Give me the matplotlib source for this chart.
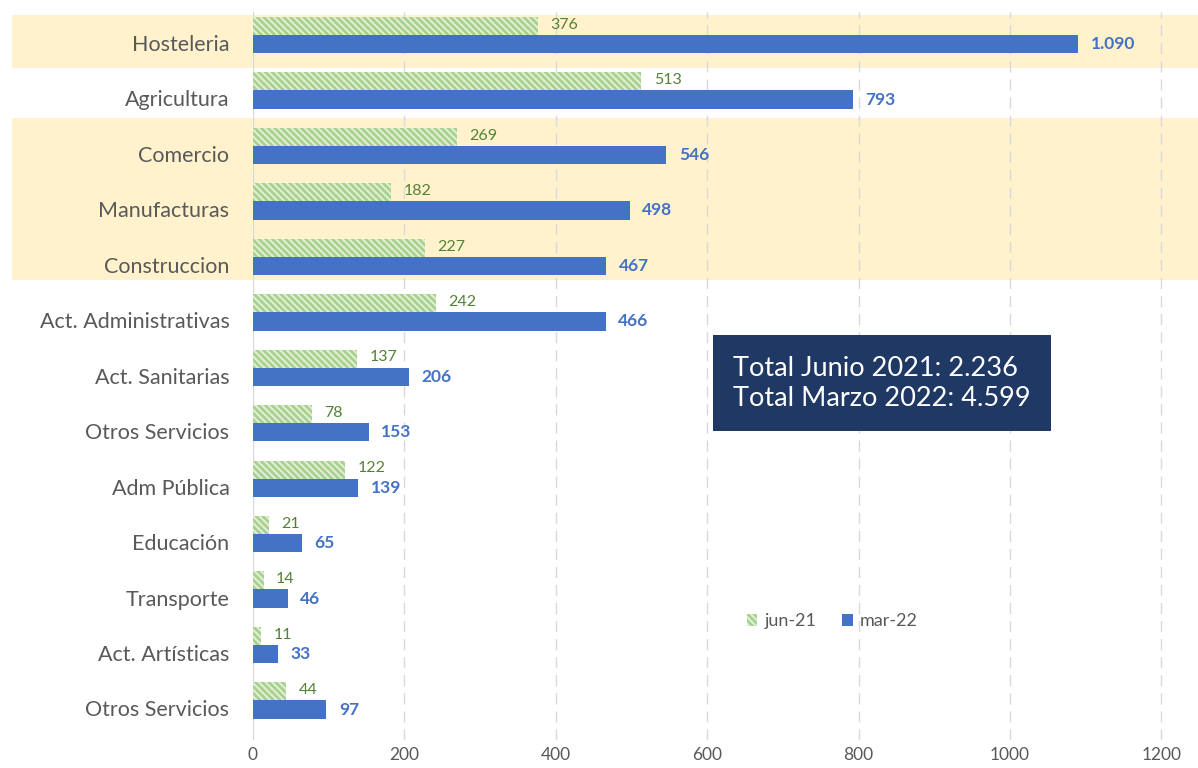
import numpy as np
import matplotlib
matplotlib.use('Agg')
from matplotlib import pyplot as plt
from matplotlib.patches import Rectangle, Patch
import matplotlib.transforms as mtrans

plt.rcParams['font.family'] = ['Lato', 'DejaVu Sans']
plt.rcParams['hatch.linewidth'] = 2.0

cats = ['Hosteleria', 'Agricultura', 'Comercio', 'Manufacturas', 'Construccion',
        'Act. Administrativas', 'Act. Sanitarias', 'Otros Servicios', 'Adm Pública',
        'Educación', 'Transporte', 'Act. Artísticas', 'Otros Servicios']
jun21 = [376, 513, 269, 182, 227, 242, 137, 78, 122, 21, 14, 11, 44]
mar22 = [1090, 793, 546, 498, 467, 466, 206, 153, 139, 65, 46, 33, 97]
xticks = [0, 200, 400, 600, 800, 1000, 1200]

def fmt(v):
    return '{:,}'.format(v).replace(',', '.')

fig = plt.figure(figsize=(11.98, 7.68), dpi=100)
ax = fig.add_axes([253/1198, 1-740/768, (1184-253)/1198, (740-12)/768])

y = np.arange(len(cats))
h = 0.33
green_c = y - 0.305
blue_c = y + 0.02

# highlighted bands (span over the labels too)
trans = mtrans.blended_transform_factory(fig.transFigure, ax.transData)
for a, b in [(-0.5, 0.45), (2 - 0.65, 4 + 0.27)]:
    ax.add_patch(Rectangle((12/1198, a), (1198-12)/1198, b - a, transform=trans,
                           facecolor='#FFF2CC', edgecolor='none', zorder=0, clip_on=False))

ax.barh(green_c, jun21, height=h, facecolor='#E2F0D9', edgecolor='#A9D18E',
        hatch='\\\\\\\\\\', linewidth=0, zorder=3)
ax.barh(blue_c, mar22, height=h, color='#4472C4', zorder=3)

for yc, v in zip(green_c, jun21):
    ax.annotate(fmt(v), (v, yc), xytext=(9, 1), textcoords='offset points',
                va='center', ha='left', fontsize=11.5, color='#548235', zorder=4)
for yc, v in zip(blue_c, mar22):
    ax.annotate(fmt(v), (v, yc), xytext=(9, 0), textcoords='offset points',
                va='center', ha='left', fontsize=12.5, fontweight='bold',
                color='#4472C4', zorder=4)

ax.set_xlim(0, 1230)
ax.set_ylim(12.57, -0.56)
ax.set_xticks(xticks)
ax.set_xticklabels([str(t) for t in xticks])
ax.set_yticks(y)
ax.set_yticklabels(cats)
ax.tick_params(axis='x', length=0, pad=5, labelsize=12.5, labelcolor='#595959')
ax.tick_params(axis='y', length=0, pad=17, labelsize=15.5, labelcolor='#595959')
for s in ax.spines.values():
    s.set_visible(False)
ax.set_facecolor('none')
for t in xticks[1:]:
    ax.axvline(t, color='#D9D9D9', lw=1, ls=(0, (8, 5)), zorder=1)
ax.axvline(0, color='#D9D9D9', lw=1, zorder=1)

fig.text(733/1198, 1-383/768, 'Total Junio 2021: 2.236\nTotal Marzo 2022: 4.599',
         fontsize=19.5, color='white', va='center', ha='left', linespacing=1.25,
         bbox=dict(boxstyle='square,pad=0.75', facecolor='#1F3864', edgecolor='none'))

handles = [Patch(facecolor='#E2F0D9', edgecolor='#A9D18E', hatch='\\\\\\\\\\', linewidth=0),
           Patch(facecolor='#4472C4')]
ax.legend(handles, ['jun-21', 'mar-22'], loc='center', bbox_to_anchor=(0.622, 0.163),
          ncol=2, frameon=False, fontsize=13, labelcolor='#595959',
          handlelength=0.6, handleheight=0.6, handletextpad=0.4, columnspacing=1.4)

fig.savefig('out.png', dpi=100)
